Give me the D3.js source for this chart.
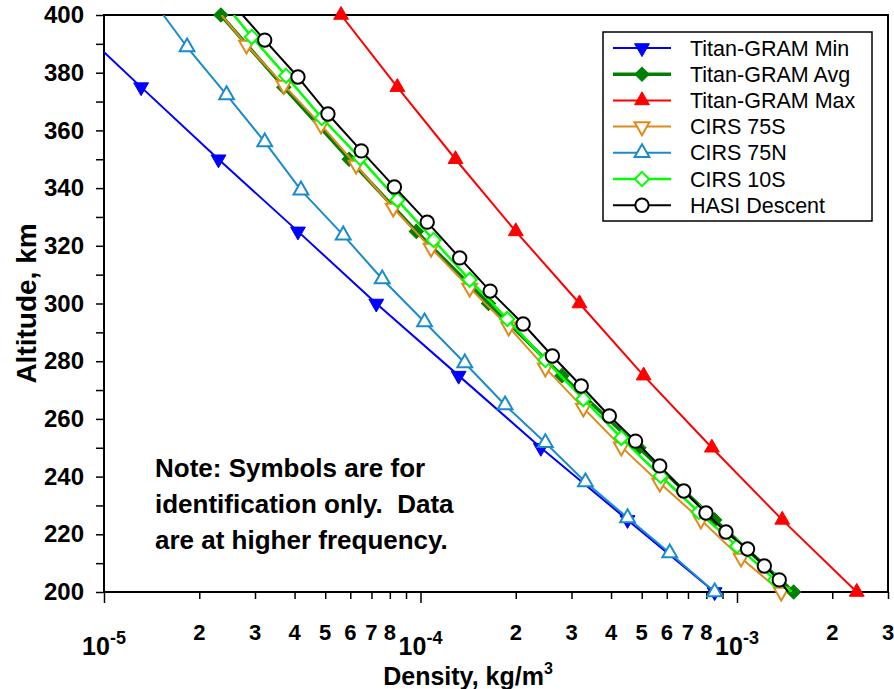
<!DOCTYPE html>
<html>
<head>
<meta charset="utf-8">
<script src="https://cdn.jsdelivr.net/npm/d3@7"></script>
<style>
  body { margin: 0; background: #fff; }
  svg text { font-family: "Liberation Sans", Arial, sans-serif; }
</style>
</head>
<body>
<svg id="chart"></svg>
<script>
// values (altitude km, density kg/m3)
const seriesNames = ['Titan-GRAM Min', 'Titan-GRAM Avg', 'Titan-GRAM Max', 'CIRS 75S', 'CIRS 75N', 'CIRS 10S', 'HASI Descent'];

const gramAlt = [400, 375, 350, 325, 300, 275, 250, 225, 200];
const gramMinDen = [7.5e-6, 1.31e-5, 2.30e-5, 4.10e-5, 7.25e-5, 1.32e-4, 2.40e-4, 4.51e-4, 8.5e-4];
const gramAvgDen = [2.34e-5, 3.70e-5, 5.95e-5, 9.7e-5, 1.64e-4, 2.80e-4, 4.9e-4, 8.5e-4, 1.51e-3];
const gramMaxDen = [5.61e-5, 8.45e-5, 1.29e-4, 2.00e-4, 3.18e-4, 5.07e-4, 8.33e-4, 1.39e-3, 2.39e-3];
const gramSym = [1, 1, 1, 1, 1, 1, 1, 1, 1];

const cirs75SAlt = [400, 389.6, 375.7, 361.9, 348.0, 333.1, 319.2, 305.4, 291.9, 277.7, 263.8, 250.3, 237.8, 225.0, 211.8, 200];
const cirs75SDen = [2.35e-5, 2.82e-5, 3.70e-5, 4.85e-5, 6.26e-5, 8.20e-5, 1.08e-4, 1.43e-4, 1.90e-4, 2.48e-4, 3.27e-4, 4.31e-4, 5.70e-4, 7.69e-4, 1.03e-3, 1.38e-3];
const cirs75SSym = [0, 1, 1, 1, 1, 1, 1, 1, 1, 1, 1, 1, 1, 1, 1, 1];

const cirs75NAlt = [400, 388.9, 372.3, 356.0, 339.3, 323.7, 308.5, 293.6, 279.4, 264.8, 251.7, 238.1, 225.7, 213.5, 200];
const cirs75NDen = [1.54e-5, 1.83e-5, 2.44e-5, 3.22e-5, 4.19e-5, 5.70e-5, 7.57e-5, 1.03e-4, 1.38e-4, 1.85e-4, 2.48e-4, 3.32e-4, 4.51e-4, 6.13e-4, 8.5e-4];
const cirs75NSym = [0, 1, 1, 1, 1, 1, 1, 1, 1, 1, 1, 1, 1, 1, 1];

const cirs10SAlt = [400, 392.4, 378.9, 364.3, 350.4, 335.9, 322.0, 308.2, 294.6, 280.4, 266.9, 253.4, 240.2, 227.7, 215.9, 204.2, 200];
const cirs10SDen = [2.57e-5, 2.93e-5, 3.76e-5, 4.88e-5, 6.45e-5, 8.45e-5, 1.10e-4, 1.43e-4, 1.88e-4, 2.48e-4, 3.27e-4, 4.31e-4, 5.74e-4, 7.57e-4, 1.00e-3, 1.32e-3, 1.49e-3];
const cirs10SSym = [0, 1, 1, 1, 1, 1, 1, 1, 1, 1, 1, 1, 1, 1, 1, 1, 0];

const hasiAlt = [400, 391.3, 378.5, 365.7, 352.9, 340.4, 328.2, 315.8, 304.3, 292.9, 281.8, 271.4, 261.0, 252.3, 243.7, 235.0, 227.4, 220.8, 214.9, 209.0, 204.2, 200];
const hasiDen = [2.74e-5, 3.22e-5, 4.10e-5, 5.10e-5, 6.50e-5, 8.27e-5, 1.05e-4, 1.33e-4, 1.66e-4, 2.11e-4, 2.61e-4, 3.22e-4, 3.95e-4, 4.78e-4, 5.70e-4, 6.79e-4, 7.98e-4, 9.23e-4, 1.08e-3, 1.22e-3, 1.36e-3, 1.45e-3];
const hasiSym = [0, 1, 1, 1, 1, 1, 1, 1, 1, 1, 1, 1, 1, 1, 1, 1, 1, 1, 1, 1, 1, 0];

const altTicks = [200, 220, 240, 260, 280, 300, 320, 340, 360, 380, 400];
const decadeTicks = [1e-5, 1e-4, 1e-3];
const decadeExp = ['-5', '-4', '-3'];
const noteLines = ['Note: Symbols are for', 'identification only.  Data', 'are at higher frequency.'];

const config = {
    width: 894, height: 689,
    margin: {top: 15, right: 6, bottom: 97, left: 104}
};

function zip(alt, den, sym) {
    return alt.map((a, i) => ({alt: a, den: den[i], sym: sym[i]}));
}

// marker shape, colour and fill for each series
const series = [
    {name: seriesNames[0], pts: zip(gramAlt, gramMinDen, gramSym), color: '#0000ff', shape: 'down', fill: '#0000ff', lw: 2},
    {name: seriesNames[1], pts: zip(gramAlt, gramAvgDen, gramSym), color: '#008000', shape: 'diamond', fill: '#008000', lw: 3.5},
    {name: seriesNames[2], pts: zip(gramAlt, gramMaxDen, gramSym), color: '#ff0000', shape: 'up', fill: '#ff0000', lw: 2},
    {name: seriesNames[3], pts: zip(cirs75SAlt, cirs75SDen, cirs75SSym), color: '#e08a1c', shape: 'down', fill: '#fff', lw: 2},
    {name: seriesNames[4], pts: zip(cirs75NAlt, cirs75NDen, cirs75NSym), color: '#1a8ccc', shape: 'up', fill: '#fff', lw: 2},
    {name: seriesNames[5], pts: zip(cirs10SAlt, cirs10SDen, cirs10SSym), color: '#00ff00', shape: 'diamond', fill: '#fff', lw: 2.5},
    {name: seriesNames[6], pts: zip(hasiAlt, hasiDen, hasiSym), color: '#000000', shape: 'circle', fill: '#fff', lw: 2}
];

const svg = d3.select('#chart')
    .attr('width', config.width)
    .attr('height', config.height);

const innerW = config.width - config.margin.left - config.margin.right;
const innerH = config.height - config.margin.top - config.margin.bottom;

const x = d3.scaleLog()
    .domain([1e-5, 3e-3])
    .range([config.margin.left, config.margin.left + innerW]);

const y = d3.scaleLinear()
    .domain([200, 400])
    .range([config.margin.top + innerH, config.margin.top]);

svg.append('clipPath').attr('id', 'plotClip')
    .append('rect')
    .attr('x', x.range()[0]).attr('y', y.range()[1])
    .attr('width', innerW).attr('height', innerH);

// symbol path generator
function symbolPath(shape) {
    if (shape === 'circle') return d3.symbol().type(d3.symbolCircle).size(140)();
    if (shape === 'diamond') return d3.symbol().type(d3.symbolSquare).size(100)();
    return d3.symbol().type(d3.symbolTriangle).size(95)();
}
function symbolRotate(shape) {
    if (shape === 'down') return 180;
    if (shape === 'diamond') return 45;
    return 0;
}

// ----- axes -----
const minorX = [];
[1e-5, 1e-4, 1e-3].forEach(dec => {
    for (let k = 2; k <= 9; k++) {
        const v = dec * k;
        if (v <= 3e-3 + 1e-12) minorX.push(v);
    }
});
const mantissa = v => Math.round(v / Math.pow(10, Math.floor(Math.log10(v) + 1e-9)));

const xAxisMinor = d3.axisBottom(x).tickValues(minorX).tickSize(7).tickFormat('');
const xAxisMajor = d3.axisBottom(x).tickValues(decadeTicks).tickSize(11).tickFormat('');
const base = y(200);

svg.append('g').attr('transform', `translate(0,${base})`).call(xAxisMinor)
    .call(g => g.select('.domain').remove())
    .call(g => g.selectAll('line').attr('stroke', '#000').attr('stroke-width', 1.5));
svg.append('g').attr('transform', `translate(0,${base})`).call(xAxisMajor)
    .call(g => g.select('.domain').remove())
    .call(g => g.selectAll('line').attr('stroke', '#000').attr('stroke-width', 1.5));

// minor tick labels 2..8 in each decade
svg.append('g').selectAll('text')
    .data(minorX.filter(v => mantissa(v) !== 9))
    .join('text')
    .attr('x', d => x(d))
    .attr('y', base + 48)
    .attr('text-anchor', 'middle')
    .attr('font-size', 22)
    .attr('font-weight', 'bold')
    .text(d => mantissa(d));

// decade labels 10^n
const decLab = svg.append('g').selectAll('text')
    .data(decadeTicks)
    .join('text')
    .attr('x', d => x(d))
    .attr('y', base + 63)
    .attr('text-anchor', 'middle')
    .attr('font-weight', 'bold')
    .attr('font-size', 25);
decLab.append('tspan').text('10');
decLab.append('tspan').attr('font-size', 18).attr('dy', -11).text((d, i) => decadeExp[i]);

const yAxisMinor = d3.axisLeft(y).tickValues(d3.range(210, 400, 20)).tickSize(8).tickFormat('');
const yAxisMajor = d3.axisLeft(y).tickValues(altTicks).tickSize(8).tickPadding(12).tickFormat(d3.format('d'));

svg.append('g').attr('transform', `translate(${x(1e-5)},0)`).call(yAxisMinor)
    .call(g => g.select('.domain').remove())
    .call(g => g.selectAll('line').attr('stroke', '#000').attr('stroke-width', 1.5));
svg.append('g').attr('transform', `translate(${x(1e-5)},0)`).call(yAxisMajor)
    .call(g => g.select('.domain').remove())
    .call(g => g.selectAll('line').attr('stroke', '#000').attr('stroke-width', 1.5))
    .call(g => g.selectAll('text')
        .attr('fill', '#000')
        .attr('font-size', 24)
        .attr('font-weight', 'bold')
        .attr('font-family', '"Liberation Sans", Arial, sans-serif'));

// plot frame
svg.append('rect')
    .attr('x', x.range()[0]).attr('y', y.range()[1])
    .attr('width', innerW).attr('height', innerH)
    .attr('fill', 'none').attr('stroke', '#000').attr('stroke-width', 2);

// axis titles
svg.append('text')
    .attr('transform', `translate(26,${(y(200) + y(400)) / 2}) rotate(-90)`)
    .attr('dy', '0.35em')
    .attr('text-anchor', 'middle')
    .attr('font-size', 28)
    .attr('font-weight', 'bold')
    .text('Altitude, km');

const xt = svg.append('text')
    .attr('x', 468)
    .attr('y', 685)
    .attr('text-anchor', 'middle')
    .attr('font-size', 25)
    .attr('font-weight', 'bold');
xt.append('tspan').text('Density, kg/m');
xt.append('tspan').attr('font-size', 16).attr('dy', -11).text('3');

// ----- series -----
const line = d3.line()
    .x(d => x(d.den))
    .y(d => y(d.alt));

const plot = svg.append('g');

series.forEach(s => {
    plot.append('path')
        .datum(s.pts)
        .attr('clip-path', 'url(#plotClip)')
        .attr('d', line)
        .attr('fill', 'none')
        .attr('stroke', s.color)
        .attr('stroke-width', s.lw)
        .attr('stroke-linejoin', 'round');

    plot.append('g').selectAll('path')
        .data(s.pts.filter(d => d.sym && d.den >= 1e-5))
        .join('path')
        .attr('d', symbolPath(s.shape))
        .attr('transform', d => `translate(${x(d.den)},${y(d.alt)}) rotate(${symbolRotate(s.shape)})`)
        .attr('fill', s.fill)
        .attr('stroke', s.color)
        .attr('stroke-width', s.fill === '#fff' ? 2 : 1);
});

// ----- note -----
svg.append('g').selectAll('text')
    .data(noteLines)
    .join('text')
    .attr('x', 155)
    .attr('y', (d, i) => 477 + i * 36)
    .attr('font-size', 26)
    .attr('font-weight', 'bold')
    .style('white-space', 'pre')
    .text(d => d);

// ----- legend -----
const legend = svg.append('g');
legend.append('rect')
    .attr('x', 603).attr('y', 32)
    .attr('width', 269).attr('height', 189)
    .attr('fill', '#fff').attr('stroke', '#000').attr('stroke-width', 1.5);

const rows = legend.selectAll('g.row')
    .data(series)
    .join('g')
    .attr('class', 'row')
    .attr('transform', (d, i) => `translate(0,${48 + i * 26.2})`);

rows.append('line')
    .attr('x1', 613).attr('x2', 671)
    .attr('stroke', d => d.color)
    .attr('stroke-width', d => d.lw);
rows.append('path')
    .attr('d', d => symbolPath(d.shape))
    .attr('transform', d => `translate(642,0) rotate(${symbolRotate(d.shape)})`)
    .attr('fill', d => d.fill)
    .attr('stroke', d => d.color)
    .attr('stroke-width', d => d.fill === '#fff' ? 2 : 1);
rows.append('text')
    .attr('x', 690)
    .attr('dy', '0.35em')
    .attr('font-size', 21.5)
    .text(d => d.name);
</script>
</body>
</html>
